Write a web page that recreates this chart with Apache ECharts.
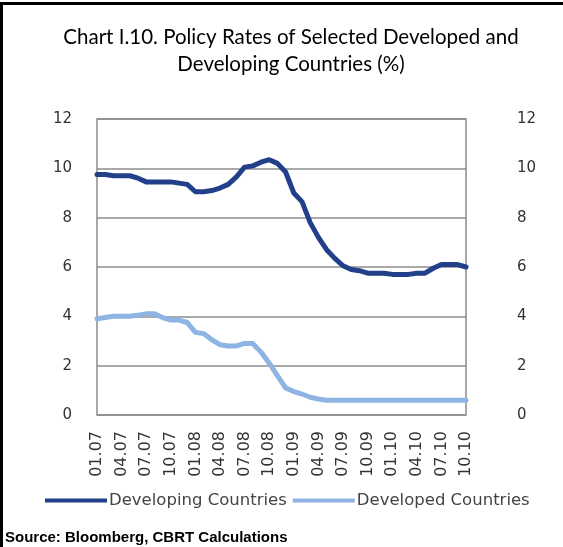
<!DOCTYPE html>
<html>
<head>
<meta charset="utf-8">
<script src="https://cdn.jsdelivr.net/npm/echarts@6/dist/echarts.min.js"></script>
<style>
  html, body { margin: 0; padding: 0; background: #fff; }
  #chart { width: 563px; height: 547px; }
</style>
</head>
<body>
<div id="chart"></div>
<script>
(function () {
  var months = [
    '01.07', '02.07', '03.07', '04.07', '05.07', '06.07', '07.07', '08.07', '09.07', '10.07', '11.07', '12.07',
    '01.08', '02.08', '03.08', '04.08', '05.08', '06.08', '07.08', '08.08', '09.08', '10.08', '11.08', '12.08',
    '01.09', '02.09', '03.09', '04.09', '05.09', '06.09', '07.09', '08.09', '09.09', '10.09', '11.09', '12.09',
    '01.10', '02.10', '03.10', '04.10', '05.10', '06.10', '07.10', '08.10', '09.10', '10.10'
  ];

  var developing = [
    9.75, 9.75, 9.7, 9.7, 9.7, 9.6, 9.45, 9.45, 9.45, 9.45, 9.4, 9.35,
    9.05, 9.05, 9.1, 9.2, 9.35, 9.65, 10.05, 10.1, 10.25, 10.35, 10.2, 9.85,
    9.0, 8.65, 7.8, 7.2, 6.7, 6.35, 6.05, 5.9, 5.85, 5.75, 5.75, 5.75,
    5.7, 5.7, 5.7, 5.75, 5.75, 5.95, 6.1, 6.1, 6.1, 6.0
  ];

  var developed = [
    3.9, 3.95, 4.0, 4.0, 4.0, 4.05, 4.1, 4.1, 3.95, 3.85, 3.85, 3.75,
    3.35, 3.3, 3.05, 2.85, 2.8, 2.8, 2.9, 2.9, 2.55, 2.1, 1.6, 1.1,
    0.95, 0.85, 0.72, 0.65, 0.6, 0.6, 0.6, 0.6, 0.6, 0.6, 0.6, 0.6,
    0.6, 0.6, 0.6, 0.6, 0.6, 0.6, 0.6, 0.6, 0.6, 0.6
  ];

  var seriesNames = ['Developing Countries', 'Developed Countries'];
  var titleFont = 'Lato, "Liberation Sans", sans-serif';
  var axisFont = '"DejaVu Sans", sans-serif';

  function yAxis(position) {
    return {
      type: 'value',
      position: position,
      min: 0,
      max: 12,
      interval: 2,
      axisLine: { show: false },
      axisTick: { show: false },
      splitLine: { show: position === 'left', lineStyle: { color: '#8c8c8c', width: 1.5 } },
      axisLabel: { color: '#333', fontSize: 15, fontFamily: axisFont, margin: position === 'left' ? 25 : 51 }
    };
  }

  var chart = echarts.init(document.getElementById('chart'), null, { renderer: 'canvas' });
  chart.setOption({
    backgroundColor: '#fff',
    animation: false,
    title: {
      text: 'Chart I.10. Policy Rates of Selected Developed and\nDeveloping Countries (%)',
      left: 286,
      textAlign: 'center',
      top: 19,
      textStyle: { color: '#000', fontSize: 20.5, fontWeight: 'normal', fontFamily: titleFont, lineHeight: 27 }
    },
    grid: {
      left: 97,
      right: 97,
      top: 119,
      bottom: 132,
      show: true,
      borderColor: '#8c8c8c',
      borderWidth: 1.5,
      backgroundColor: 'transparent'
    },
    legend: {
      bottom: 33,
      left: 40,
      icon: 'rect',
      itemWidth: 62,
      itemHeight: 4,
      itemGap: 6,
      textStyle: { color: '#444', fontSize: 16.5, fontFamily: axisFont, padding: [0, 0, 0, -3] },
      data: seriesNames
    },
    xAxis: {
      type: 'category',
      data: months,
      boundaryGap: false,
      axisLine: { show: false },
      axisTick: { show: false },
      axisLabel: {
        interval: 2,
        rotate: 90,
        color: '#333',
        fontSize: 16,
        fontFamily: axisFont,
        margin: 16
      }
    },
    yAxis: [yAxis('left'), yAxis('right')],
    graphic: [
      { type: 'rect', shape: { x: 0, y: 2, width: 563, height: 3 }, style: { fill: '#000' } },
      { type: 'rect', shape: { x: 0, y: 2, width: 3, height: 545 }, style: { fill: '#000' } },
      {
        type: 'text',
        left: 5,
        top: 530,
        style: {
          text: 'Source: Bloomberg, CBRT Calculations',
          fill: '#000',
          font: 'bold 15px "Liberation Sans", sans-serif'
        }
      }
    ],
    series: [
      {
        name: seriesNames[0],
        type: 'line',
        data: developing,
        symbol: 'none',
        itemStyle: { color: '#223f8a' },
        lineStyle: { color: '#223f8a', width: 5, join: 'round', cap: 'round' }
      },
      {
        name: seriesNames[1],
        type: 'line',
        data: developed,
        symbol: 'none',
        itemStyle: { color: '#8db4e2' },
        lineStyle: { color: '#8db4e2', width: 5, join: 'round', cap: 'round' }
      }
    ]
  });
})();
</script>
</body>
</html>
